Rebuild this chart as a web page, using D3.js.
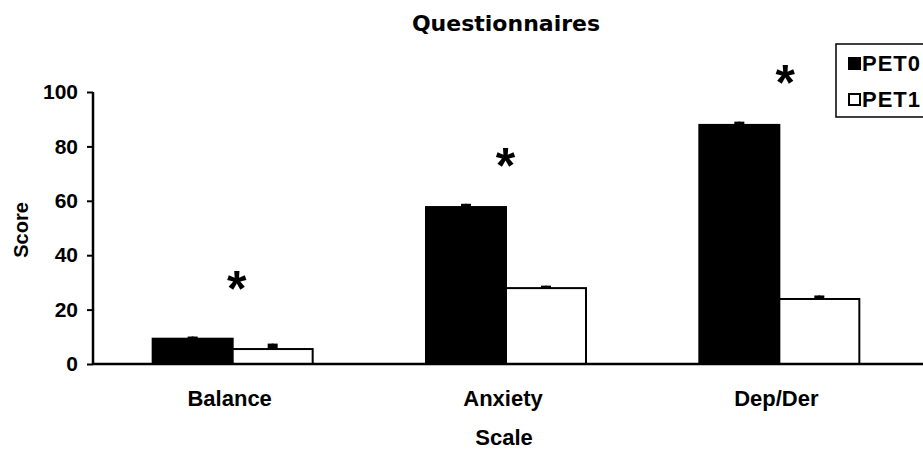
<!DOCTYPE html>
<html>
<head>
<meta charset="utf-8">
<script src="https://cdn.jsdelivr.net/npm/d3@7"></script>
<style>
  body { margin: 0; background: #fff; }
  text { font-family: "Liberation Sans", Arial, sans-serif; font-weight: bold; }
</style>
</head>
<body>
<div id="chart"></div>
<script>
const categories = ["Balance", "Anxiety", "Dep/Der"];
const series = ["PET0", "PET1"];
const pet0 = [9.3, 57.7, 87.9];
const pet1 = [5.5, 27.9, 23.9];
const pet0Err = [0.8, 1.2, 1.2];
const pet1Err = [2.0, 0.9, 1.3];
const yTicks = [0, 20, 40, 60, 80, 100];
const starY = [29.8, 75, 105.5]; // score level at the asterisk centre

const W = 923, H = 450;
const margin = { top: 92, right: 10, bottom: 86, left: 93 };
const width = W - margin.left - margin.right,
      height = H - margin.top - margin.bottom;

const svg = d3.select("#chart").append("svg")
  .attr("width", W).attr("height", H);

const g = svg.append("g")
  .attr("transform", `translate(${margin.left},${margin.top})`);

const x = d3.scaleBand().domain(categories).range([0, width]).padding(0);
const xs = d3.scaleBand().domain(series).range([0, 160]);
const y = d3.scaleLinear().domain([0, 100]).range([height, 0]);

const data = categories.flatMap((c, i) => [
  { cat: c, s: "PET0", v: pet0[i], e: pet0Err[i] },
  { cat: c, s: "PET1", v: pet1[i], e: pet1Err[i] }
]);
const bx = d => x(d.cat) + x.bandwidth() / 2 - 80 + xs(d.s) + 3;

// bars
g.selectAll(".bar").data(data).enter().append("rect")
  .attr("x", d => bx(d))
  .attr("y", d => y(d.v))
  .attr("width", xs.bandwidth())
  .attr("height", d => height - y(d.v))
  .attr("fill", d => d.s === "PET0" ? "#000" : "#fff")
  .attr("stroke", "#000")
  .attr("stroke-width", 2);

// error caps
g.selectAll(".err").data(data).enter().append("rect")
  .attr("x", d => bx(d) + xs.bandwidth() / 2 - 5)
  .attr("y", d => y(d.v + d.e))
  .attr("width", 10)
  .attr("height", d => y(d.v) - y(d.v + d.e))
  .attr("fill", "#000");
g.selectAll(".errl").data(data).enter().append("line")
  .attr("x1", d => bx(d) + xs.bandwidth() / 2)
  .attr("x2", d => bx(d) + xs.bandwidth() / 2)
  .attr("y1", d => y(d.v + d.e))
  .attr("y2", d => y(d.v))
  .attr("stroke", "#000").attr("stroke-width", 2);

// axes
const yAxis = g.append("g")
  .call(d3.axisLeft(y).tickValues(yTicks).tickSize(6).tickPadding(9));
yAxis.select(".domain").attr("stroke-width", 2.5).attr("d", `M0,0V${height}`);
yAxis.selectAll(".tick line").attr("stroke-width", 2);
yAxis.selectAll(".tick text").attr("font-size", "21px")
  .attr("font-family", "Liberation Sans").attr("font-weight", "bold");

const xAxis = g.append("g")
  .attr("transform", `translate(0,${height})`)
  .call(d3.axisBottom(x).tickSize(0).tickPadding(26));
xAxis.select(".domain").attr("stroke-width", 2.5).attr("d", `M0,0H${W}`);
xAxis.selectAll(".tick text").attr("font-size", "22px")
  .attr("font-family", "Liberation Sans").attr("font-weight", "bold");

// titles
svg.append("text")
  .attr("x", 506).attr("y", 31)
  .attr("text-anchor", "middle")
  .attr("font-size", "22px")
  .style("font-family", "'DejaVu Sans', sans-serif")
  .text("Questionnaires");

svg.append("text")
  .attr("x", 504).attr("y", 445)
  .attr("text-anchor", "middle")
  .attr("font-size", "22px")
  .text("Scale");

svg.append("text")
  .attr("transform", `translate(28,230) rotate(-90)`)
  .attr("text-anchor", "middle")
  .attr("font-size", "20px")
  .text("Score");

// legend
const lg = svg.append("g").attr("transform", "translate(836,44)");
lg.append("rect")
  .attr("width", 120).attr("height", 73)
  .attr("fill", "#fff").attr("stroke", "#000").attr("stroke-width", 1.5);
lg.selectAll(".li").data(series).enter().append("g")
  .attr("transform", (d, i) => `translate(13,${19 + i * 36})`)
  .each(function(d, i) {
    const s = d3.select(this);
    s.append("rect").attr("x", 0).attr("y", -5).attr("width", 11).attr("height", 11)
      .attr("fill", i === 0 ? "#000" : "#fff").attr("stroke", "#000").attr("stroke-width", 2);
    s.append("text").attr("x", 13).attr("y", 8)
      .attr("font-size", "22px").attr("letter-spacing", "1px").text(d);
  });

// asterisks (drawn last so they sit above everything)
const starDx = [7, 2.5, 9];
g.selectAll(".star").data(categories).enter().append("text")
  .attr("x", (d, i) => x(d) + x.bandwidth() / 2 + starDx[i])
  .attr("y", (d, i) => y(starY[i]) + 23)
  .attr("text-anchor", "middle")
  .attr("font-size", "50px")
  .text("*");
</script>
</body>
</html>
